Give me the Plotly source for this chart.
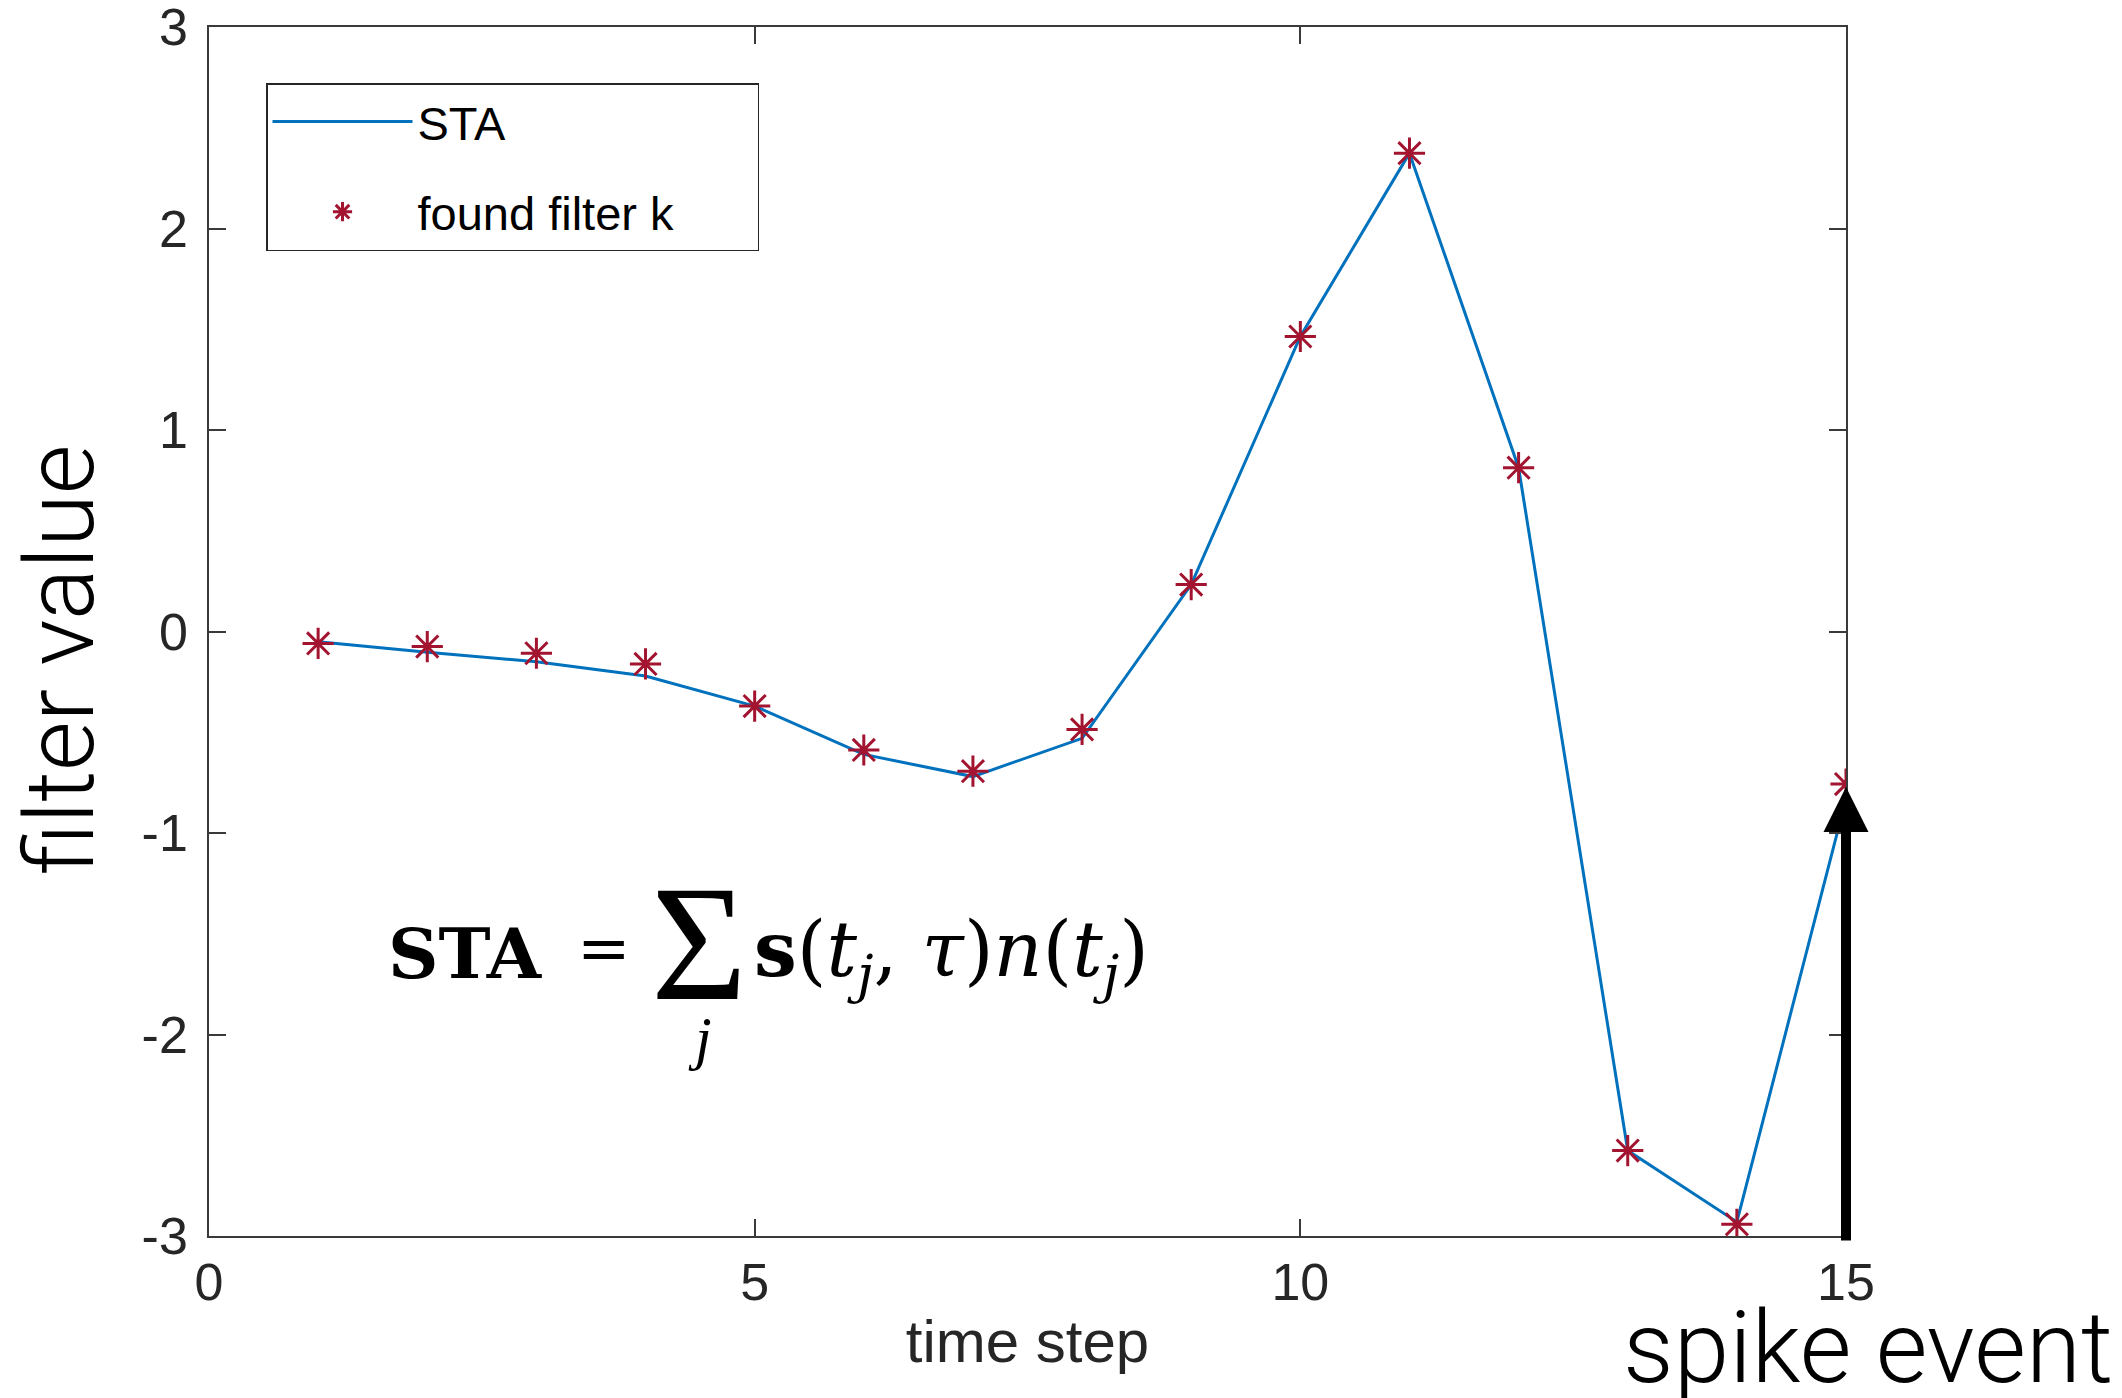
import plotly.graph_objects as go

# ---- data ----
time_step = list(range(1, 16))
sta_values = [-0.051, -0.103, -0.150, -0.221, -0.370, -0.610, -0.720, -0.530,
              0.233, 1.464, 2.374, 0.813, -2.576, -2.930, -0.830]
filter_k = [-0.059, -0.075, -0.108, -0.161, -0.370, -0.588, -0.693, -0.486,
            0.233, 1.464, 2.374, 0.813, -2.576, -2.942, -0.757]
x_ticks = [0, 5, 10, 15]
x_tick_labels = ["0", "5", "10", "15"]
y_ticks = [-3, -2, -1, 0, 1, 2, 3]
y_tick_labels = ["-3", "-2", "-1", "0", "1", "2", "3"]
spike_time = 15
spike_tip = -0.772
x_range = [0, 15]
y_range = [-3, 3]

# ---- layout geometry ----
W, H = 2122, 1398
L, R, T, B = 209, 276, 27, 162


def px(xp):
    return (xp - L) / (W - L - R)


def py(yp):
    return (H - B - yp) / (H - T - B)


SANS = "Liberation Sans, Arial, Helvetica, sans-serif"
LIGHT = "Roboto, Liberation Sans, sans-serif"
SERIF = "DejaVu Serif, Liberation Serif, serif"
SERIF2 = "Liberation Serif, Times New Roman, serif"
AXC = "#262626"
PAD = "\u00a0" * 6  # widens the legend box like the reference

fig = go.Figure()
fig.add_trace(go.Scatter(
    x=time_step, y=sta_values, mode="lines", name="STA",
    line=dict(color="#0072BD", width=3), legendgroup="a"))
fig.add_trace(go.Scatter(
    x=time_step, y=filter_k, mode="markers", name="found filter k" + PAD,
    marker=dict(symbol="asterisk-open", size=26, color="#A2142F",
                line=dict(color="#A2142F", width=3)), legendgroup="b"))

axis_common = dict(
    showline=True, linecolor="#3a3a3a", linewidth=1.5, mirror="ticks",
    ticks="inside", ticklen=17, tickwidth=1.5, tickcolor="#3a3a3a",
    showgrid=False, zeroline=False, ticklabeloverflow="allow",
    automargin=False,
    tickfont=dict(family=SANS, size=52, color=AXC),
)

fig.update_xaxes(range=x_range, tickvals=x_ticks, ticktext=x_tick_labels,
                 ticklabelstandoff=0,
                 title=dict(text="time step", standoff=10,
                            font=dict(family=SANS, size=60, color=AXC)),
                 **axis_common)
fig.update_yaxes(range=y_range, tickvals=y_ticks, ticktext=y_tick_labels,
                 ticklabelstandoff=9, **axis_common)

annotations = [
    # spike arrow
    dict(x=spike_time, y=spike_tip, ax=spike_time, ay=y_range[0] - 0.03,
         xref="x", yref="y", axref="x", ayref="y", text="",
         showarrow=True, arrowhead=2, arrowwidth=10, arrowsize=0.9,
         arrowcolor="black", standoff=0),
    dict(x=px(1868), y=py(1347), xref="paper", yref="paper",
         text="spike event", showarrow=False, xanchor="center", yanchor="middle",
         font=dict(family=LIGHT, size=100, color="black", weight=300)),
    # y-axis label
    dict(x=px(60), y=py(660), xref="paper", yref="paper",
         text="filter value", textangle=-90, showarrow=False,
         xanchor="center", yanchor="middle",
         font=dict(family=LIGHT, size=96, color="black", weight=300)),
    # equation
    dict(x=px(386), y=py(953), xref="paper", yref="paper", text="<b>STA</b>",
         showarrow=False, xanchor="left", yanchor="middle",
         font=dict(family=SERIF, size=70, color="black")),
    dict(x=px(604), y=py(948), xref="paper", yref="paper", text="=",
         showarrow=False, xanchor="center", yanchor="middle",
         font=dict(family=SERIF, size=64, color="black")),
    dict(x=px(699), y=py(943), xref="paper", yref="paper", text="Σ",
         showarrow=False, xanchor="center", yanchor="middle",
         font=dict(family=SERIF2, size=165, color="black")),
    dict(x=px(700), y=py(1038), xref="paper", yref="paper", text="<i>j</i>",
         showarrow=False, xanchor="center", yanchor="middle",
         font=dict(family=SERIF2, size=60, color="black")),
    dict(x=px(752), y=py(955), xref="paper", yref="paper",
         text="<b>s</b>(<i>t</i><sub><i>j</i></sub>, <i>τ</i>)<i>n</i>(<i>t</i><sub><i>j</i></sub>)",
         showarrow=False, xanchor="left", yanchor="middle",
         font=dict(family=SERIF, size=76, color="black")),
]

fig.update_layout(
    width=W, height=H, autosize=False,
    margin=dict(l=L, r=R, t=T, b=B, pad=0, autoexpand=False),
    paper_bgcolor="white", plot_bgcolor="white",
    showlegend=True,
    legend=dict(x=px(266), y=py(83), xanchor="left", yanchor="top",
                bordercolor="#262626", borderwidth=1.5, bgcolor="white",
                font=dict(family=SANS, size=47, color="black"),
                itemwidth=140, tracegroupgap=26, traceorder="grouped"),
    annotations=annotations,
)

fig.write_html("out.html")
